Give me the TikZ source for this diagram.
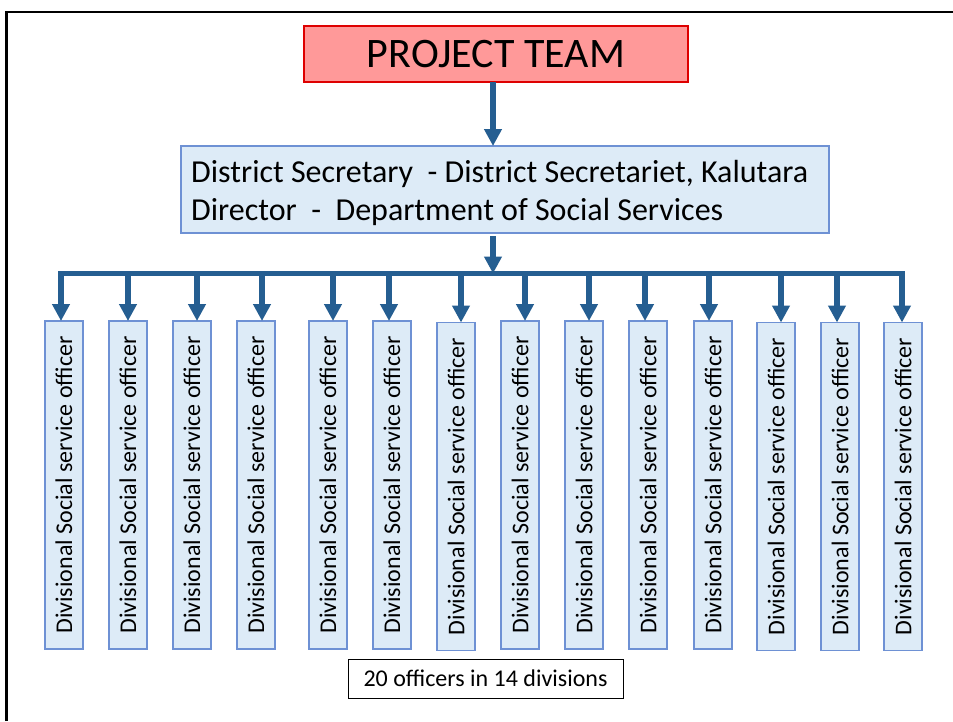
\documentclass[tikz,border=0pt]{standalone}
\usepackage{fontspec}
\setmainfont{Carlito}
\usetikzlibrary{arrows.meta,calc}
\definecolor{arrowblue}{RGB}{37,94,145}
\definecolor{boxfill}{RGB}{221,235,247}
\definecolor{boxline}{RGB}{110,145,212}
\definecolor{pinkfill}{RGB}{255,153,153}
\definecolor{redline}{RGB}{222,0,0}
\begin{document}
\begin{tikzpicture}[x=1pt,y=-1pt,
  conn/.style={draw=arrowblue, line width=5.5pt},
  arr/.style={conn, -{Triangle[length=17pt,width=17pt]}},
  pinkbox/.style={draw=redline, fill=pinkfill, line width=1.3pt, inner sep=0pt, outer sep=0pt,
    font=\fontsize{42}{50}\selectfont},
  bluebox/.style={draw=boxline, fill=boxfill, line width=1.2pt, inner sep=0pt, outer sep=0pt},
  vbox/.style={bluebox, rotate=90, minimum width=328pt, minimum height=38pt,
    font=\fontsize{24}{29}\selectfont},
  dstext/.style={anchor=base west, inner sep=0pt, font=\fontsize{32}{38}\selectfont},
  notebox/.style={draw=black, line width=1pt, minimum width=275pt, minimum height=39pt,
    inner sep=0pt, outer sep=0pt, font=\fontsize{24}{29}\selectfont}]
\useasboundingbox (0,0) rectangle (953,721);
% frame
\coordinate (fBL) at (6.5,721);
\coordinate (fTL) at (6.5,12);
\coordinate (fTR) at (953,12);
\draw[black, line width=2.5pt] (fBL) -- (fTL) -- (fTR);
% project team
\node[pinkbox, minimum width=384pt, minimum height=56pt, anchor=north west] (pt) at (304,26) {PROJECT TEAM};
% district box
\node[bluebox, minimum width=648pt, minimum height=87pt, anchor=north west] (ds) at (181,146) {};
\node[dstext] (ds1) at (191,182) {District Secretary\ \ - District Secretariet, Kalutara};
\node[dstext] (ds2) at (191,220) {Director\ \ -\ \ Department of Social Services};
\draw[arr] ([xshift=-3pt]pt.south) -- ([xshift=-3pt]pt.south |- ds.north);
% bus
\coordinate (busmid) at (493,273.5);
\draw[arr] ([xshift=-12pt,yshift=-3pt]ds.south) -- (busmid);
\coordinate (busL) at (61,273.5);
\coordinate (busR) at (902,273.5);
\draw[conn, line cap=rect] (busL) -- (busR);
% officer boxes
\foreach \i/\bx/\by/\ax in {1/45/321/61, 2/109/321/128, 3/173/321/197, 4/237/321/262,
  5/309/321/333, 6/373/321/389, 7/437/322.5/461, 8/501/321/525, 9/565/321/589,
  10/629/321/645, 11/694/321/709, 12/757/322.5/781, 13/821/322.5/837, 14/884/322.5/902}{
  \node[vbox] (b\i) at (\bx+19,\by+164) {Divisional Social service officer\hspace{17pt}};
  \coordinate (t\i) at (\ax,273.5);
  \draw[arr] (t\i) -- (t\i |- b\i.east);
}
% note
\node[notebox, anchor=north west] (note) at (348,659) {20 officers in 14 divisions\hspace{12pt}};
\end{tikzpicture}
\end{document}
